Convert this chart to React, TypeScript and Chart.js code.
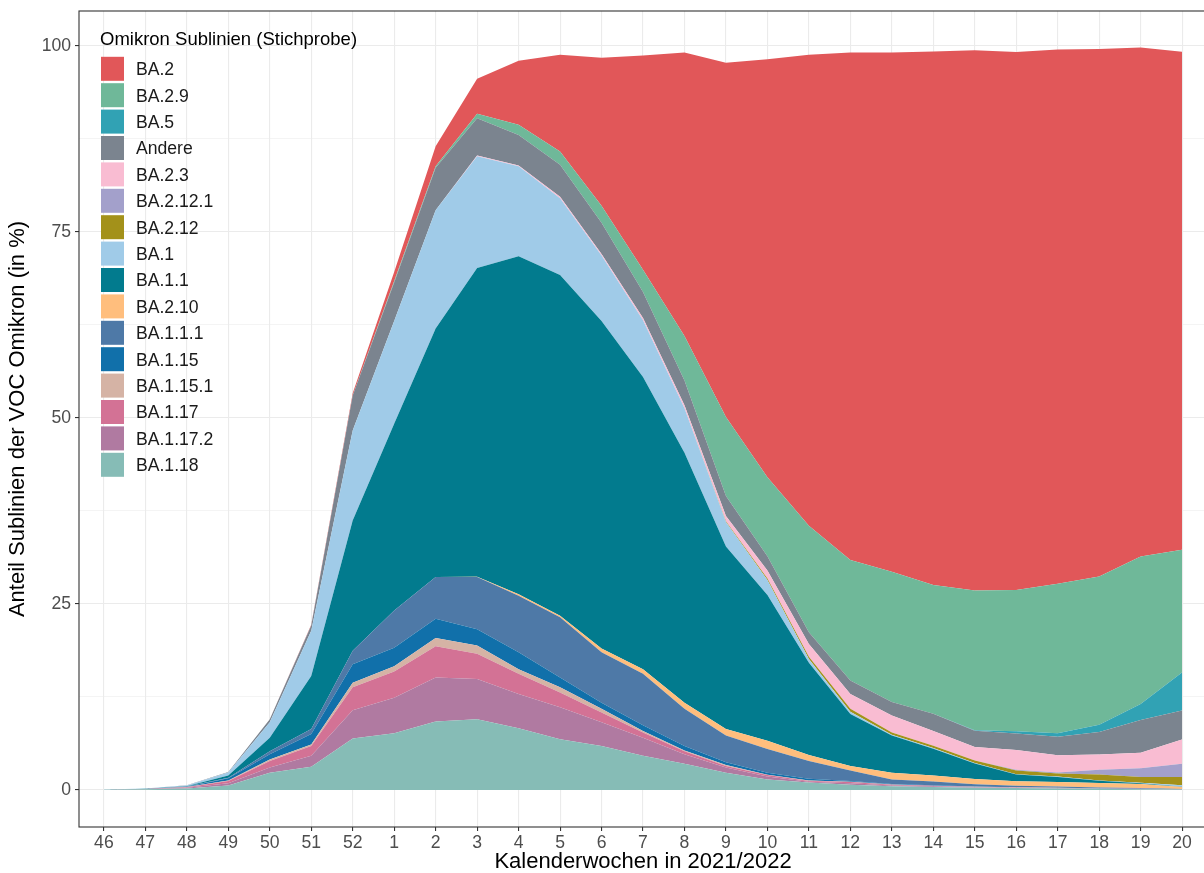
import React, { useEffect, useRef } from "react";
import { Chart, registerables } from "chart.js";

Chart.register(...registerables);

// Kalenderwochen (x categories)
const weeks = ["46", "47", "48", "49", "50", "51", "52", "1", "2", "3", "4", "5", "6", "7", "8", "9", "10", "11", "12", "13", "14", "15", "16", "17", "18", "19", "20"];

// y tick values (major labelled, minor grid only)
const yTicks = [0, 12.5, 25, 37.5, 50, 62.5, 75, 87.5, 100];

// Anteil in % per week (stacked, bottom to top)
const ba1_18 = [0.03, 0.08, 0.2, 0.6, 2.3, 3.1, 6.9, 7.6, 9.2, 9.5, 8.3, 6.8, 5.9, 4.6, 3.5, 2.3, 1.4, 1.0, 0.7, 0.5, 0.4, 0.3, 0.25, 0.2, 0.15, 0.1, 0.05];
const ba1_17_2 = [0, 0.02, 0.08, 0.3, 0.7, 1.5, 3.8, 4.8, 5.9, 5.4, 4.6, 4.3, 3.2, 2.4, 1.3, 0.7, 0.4, 0.1, 0.2, 0.1, 0.1, 0.05, 0.05, 0.05, 0.03, 0.02, 0.02];
const ba1_17 = [0, 0.03, 0.08, 0.3, 0.9, 1.3, 3.1, 3.5, 4.2, 3.4, 2.7, 2.0, 1.3, 0.7, 0.4, 0.2, 0.2, 0.1, 0.15, 0.1, 0.05, 0.05, 0.03, 0.02, 0.02, 0.02, 0.01];
const ba1_15_1 = [0, 0, 0.02, 0.05, 0.2, 0.2, 0.6, 0.7, 1.1, 1.1, 0.6, 0.7, 0.5, 0.2, 0.1, 0.15, 0.05, 0.05, 0.05, 0.02, 0.02, 0.01, 0.01, 0.01, 0, 0.01, 0.01];
const ba1_15 = [0, 0, 0.05, 0.3, 0.7, 1.4, 2.5, 2.5, 2.6, 2.2, 2.3, 1.3, 0.8, 0.8, 0.6, 0.35, 0.25, 0.25, 0.1, 0.08, 0.05, 0.05, 0.03, 0.02, 0.02, 0.05, 0.02];
const ba1_1_1 = [0, 0, 0.02, 0.1, 0.4, 0.7, 1.8, 5.0, 5.6, 7.0, 7.6, 8.1, 6.8, 6.9, 5.0, 3.6, 3.2, 2.4, 1.4, 0.6, 0.5, 0.3, 0.2, 0.15, 0.1, 0.05, 0.02];
const ba2_10 = [0, 0, 0, 0, 0, 0, 0, 0, 0, 0.05, 0.2, 0.2, 0.5, 0.6, 0.8, 0.9, 1.1, 0.8, 0.6, 0.9, 0.8, 0.7, 0.6, 0.6, 0.6, 0.55, 0.25];
const ba1_1 = [0, 0.02, 0.05, 0.3, 1.8, 7.1, 17.5, 25.1, 33.4, 41.5, 45.4, 45.8, 44.0, 39.3, 33.6, 24.5, 19.6, 12.4, 7.0, 5.0, 3.6, 2.1, 0.9, 0.7, 0.3, 0.1, 0.05];
const ba1 = [0.02, 0.05, 0.1, 0.4, 2.1, 6.1, 12.1, 13.8, 15.9, 15.0, 12.1, 10.3, 8.8, 7.6, 6.0, 3.3, 2.0, 0.5, 0.3, 0.1, 0.1, 0.05, 0.05, 0.05, 0.05, 0.05, 0.2];
const ba2_12 = [0, 0, 0, 0, 0, 0, 0, 0, 0, 0, 0, 0, 0, 0, 0, 0.1, 0.2, 0.3, 0.4, 0.3, 0.3, 0.35, 0.5, 0.4, 0.8, 0.8, 1.1];
const ba2_12_1 = [0, 0, 0, 0, 0, 0, 0, 0, 0, 0, 0, 0, 0, 0, 0, 0, 0, 0, 0, 0, 0, 0, 0.1, 0.15, 0.65, 1.15, 1.8];
const ba2_3 = [0, 0, 0, 0, 0, 0, 0, 0, 0, 0.1, 0.1, 0.2, 0.2, 0.3, 0.4, 0.7, 1.1, 1.7, 2.0, 2.3, 2.0, 1.8, 2.65, 2.3, 2.05, 2.1, 3.25];
const andere = [0, 0, 0.02, 0.05, 0.4, 0.7, 4.7, 5.2, 5.7, 5.0, 4.1, 4.3, 4.2, 3.5, 3.3, 2.7, 1.9, 1.6, 1.8, 1.8, 2.3, 2.2, 2.2, 2.5, 3.0, 4.4, 3.9];
const ba5 = [0, 0, 0, 0, 0, 0, 0, 0, 0, 0, 0, 0, 0, 0, 0, 0, 0, 0, 0, 0, 0, 0.05, 0.3, 0.45, 1.0, 2.15, 5.1];
const ba2_9 = [0, 0, 0, 0, 0, 0, 0, 0.2, 0.2, 0.6, 1.4, 1.8, 2.3, 3.0, 6.0, 10.6, 10.6, 14.3, 16.2, 17.5, 17.3, 18.8, 19.0, 20.1, 19.9, 19.8, 16.5];
const ba2 = [0, 0, 0, 0, 0, 0.1, 0.3, 1.2, 2.7, 4.7, 8.6, 13.0, 19.9, 28.8, 38.1, 47.6, 56.2, 63.3, 68.2, 69.8, 71.7, 72.6, 72.3, 71.8, 70.9, 68.4, 66.9];

// stacking order: bottom first
const seriesNames = ["BA.1.18", "BA.1.17.2", "BA.1.17", "BA.1.15.1", "BA.1.15", "BA.1.1.1", "BA.2.10", "BA.1.1", "BA.1", "BA.2.12", "BA.2.12.1", "BA.2.3", "Andere", "BA.5", "BA.2.9", "BA.2"];
const seriesValues = [ba1_18, ba1_17_2, ba1_17, ba1_15_1, ba1_15, ba1_1_1, ba2_10, ba1_1, ba1, ba2_12, ba2_12_1, ba2_3, andere, ba5, ba2_9, ba2];
const seriesColors = ["#86BCB6", "#B07AA1", "#D37295", "#D5B3A5", "#1170AA", "#4E79A7", "#FFBE7D", "#027B8E", "#A0CBE8", "#A3911A", "#A3A0CB", "#F9BCD2", "#7B848F", "#31A2B4", "#6FB899", "#E15759"];

const FONT = '"Liberation Sans", Arial, Helvetica, sans-serif';

const panelPlugin = {
  id: "panelAndLegend",
  afterDraw(chart: any) {
    const { ctx, chartArea: a } = chart;
    ctx.save();
    // legend (top-left, inside panel)
    ctx.fillStyle = "#000000";
    ctx.textAlign = "left";
    ctx.textBaseline = "alphabetic";
    ctx.font = `18.5px ${FONT}`;
    ctx.fillText("Omikron Sublinien (Stichprobe)", 100, 44.6);
    ctx.font = `17.6px ${FONT}`;
    const n = seriesNames.length;
    for (let k = 0; k < n; k++) {
      const idx = n - 1 - k;
      const cy = 68.8 + k * 26.4;
      ctx.fillStyle = seriesColors[idx];
      ctx.fillRect(101, cy - 12, 23, 24);
      ctx.fillStyle = "#1A1A1A";
      ctx.fillText(seriesNames[idx], 136, cy + 6.3);
    }
    // panel border
    ctx.strokeStyle = "#333333";
    ctx.lineWidth = 1.1;
    ctx.strokeRect(a.left, a.top, a.right - a.left, a.bottom - a.top);
    ctx.restore();
  },
};

export default function App() {
  const ref = useRef<HTMLCanvasElement>(null);

  useEffect(() => {
    const canvas = ref.current;
    if (!canvas) return;
    const datasets = seriesValues.map((vals, i) => ({
      label: seriesNames[i],
      data: vals.map((v, j) => ({ x: j, y: v })),
      backgroundColor: seriesColors[i],
      borderColor: "rgba(0,0,0,0)",
      borderWidth: 0,
      pointRadius: 0,
      pointHoverRadius: 0,
      tension: 0,
      fill: i === 0 ? "origin" : "-1",
    }));

    const chart = new Chart(canvas, {
      type: "line",
      data: { datasets },
      plugins: [panelPlugin],
      options: {
        animation: false,
        responsive: false,
        maintainAspectRatio: false,
        devicePixelRatio: 1,
        layout: { padding: { left: 0, top: 11, right: 23, bottom: 0 } },
        plugins: {
          legend: { display: false },
          tooltip: { enabled: false },
          filler: { propagate: false },
        },
        scales: {
          x: {
            type: "linear",
            min: -0.6,
            max: 26.6,
            afterBuildTicks: (scale: any) => {
              scale.ticks = weeks.map((_, i) => ({ value: i }));
            },
            afterFit: (scale: any) => {
              scale.height = 46;
              scale.paddingLeft = 0;
              scale.paddingRight = 0;
            },
            border: { display: false },
            grid: {
              color: "#EBEBEB",
              lineWidth: 1.1,
              drawTicks: true,
              tickLength: 4,
              tickColor: "#333333",
              tickWidth: 1.1,
            },
            ticks: {
              autoSkip: false,
              maxRotation: 0,
              padding: 2,
              color: "#4D4D4D",
              font: { family: FONT, size: 17.6 },
              callback: (v: any) => weeks[Math.round(Number(v))] ?? "",
            },
            title: {
              display: true,
              text: "Kalenderwochen in 2021/2022",
              color: "#000000",
              font: { family: FONT, size: 22, lineHeight: 1 },
              padding: { top: 0, bottom: 0 },
            },
          },
          y: {
            type: "linear",
            stacked: true,
            min: -4.985,
            max: 104.67,
            afterBuildTicks: (scale: any) => {
              scale.ticks = yTicks.map((v) => ({ value: v }));
            },
            afterFit: (scale: any) => {
              scale.width = 79;
              scale.paddingTop = 0;
              scale.paddingBottom = 0;
            },
            border: { display: false },
            grid: {
              color: "#EBEBEB",
              lineWidth: (c: any) => (c.tick && c.tick.value % 25 === 0 ? 1.1 : 0.55),
              drawTicks: true,
              tickLength: 4,
              tickColor: (c: any) => (c.tick && c.tick.value % 25 === 0 ? "#333333" : "rgba(0,0,0,0)"),
              tickWidth: 1.1,
            },
            ticks: {
              padding: 4,
              color: "#4D4D4D",
              font: { family: FONT, size: 17.6 },
              callback: (v: any) => (Number(v) % 25 === 0 ? String(v) : ""),
            },
            title: {
              display: true,
              text: "Anteil Sublinien der VOC Omikron (in %)",
              color: "#000000",
              font: { family: FONT, size: 22, lineHeight: 1 },
              padding: { top: 7, bottom: 0 },
            },
          },
        },
      } as any,
    });
    return () => chart.destroy();
  }, []);

  return (
    <div style={{ position: "fixed", left: 0, top: 0, width: 1204, height: 873, overflow: "hidden", background: "#FFFFFF" }}>
      <canvas ref={ref} width={1230} height={873} style={{ display: "block", width: 1230, height: 873 }} />
    </div>
  );
}
